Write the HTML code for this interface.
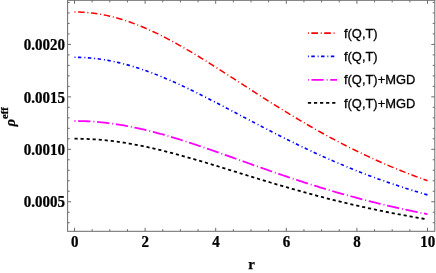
<!DOCTYPE html><html><head><meta charset="utf-8"><title>plot</title><style>html,body{margin:0;padding:0;background:#fff;}svg{display:block;will-change:transform}text{font-family:"Liberation Serif",serif;font-weight:bold;fill:#000;stroke:#000;stroke-width:0.25}.lg{font-family:"Liberation Sans",sans-serif;font-weight:normal;stroke-width:0.3}</style></head><body>
<svg width="436" height="273" viewBox="0 0 436 273">
<rect width="436" height="273" fill="#fff"/>
<path d="M74.50 11.99 L76.27 12.00 L78.03 12.03 L79.80 12.08 L81.56 12.16 L83.33 12.25 L85.09 12.37 L86.86 12.50 L88.62 12.66 L90.39 12.84 L92.15 13.04 L93.91 13.26 L95.68 13.50 L97.44 13.77 L99.21 14.05 L100.97 14.35 L102.74 14.67 L104.50 15.02 L106.27 15.38 L108.03 15.76 L109.80 16.16 L111.56 16.59 L113.33 17.03 L115.09 17.49 L116.86 17.97 L118.62 18.46 L120.39 18.98 L122.16 19.52 L123.92 20.07 L125.69 20.64 L127.45 21.23 L129.22 21.83 L130.98 22.46 L132.75 23.10 L134.51 23.75 L136.27 24.43 L138.04 25.12 L139.81 25.82 L141.57 26.54 L143.33 27.28 L145.10 28.03 L146.87 28.80 L148.63 29.58 L150.39 30.37 L152.16 31.18 L153.93 32.01 L155.69 32.84 L157.45 33.69 L159.22 34.56 L160.99 35.43 L162.75 36.32 L164.51 37.22 L166.28 38.13 L168.05 39.05 L169.81 39.99 L171.57 40.93 L173.34 41.89 L175.10 42.85 L176.87 43.83 L178.63 44.81 L180.40 45.80 L182.17 46.81 L183.93 47.82 L185.69 48.84 L187.46 49.87 L189.22 50.90 L190.99 51.95 L192.75 53.00 L194.52 54.05 L196.28 55.12 L198.05 56.19 L199.81 57.26 L201.58 58.34 L203.34 59.43 L205.11 60.52 L206.88 61.62 L208.64 62.72 L210.41 63.83 L212.17 64.94 L213.94 66.05 L215.70 67.17 L217.46 68.29 L219.23 69.41 L221.00 70.54 L222.76 71.67 L224.52 72.80 L226.29 73.93 L228.06 75.07 L229.82 76.20 L231.58 77.34 L233.35 78.48 L235.11 79.62 L236.88 80.76 L238.65 81.90 L240.41 83.04 L242.17 84.18 L243.94 85.32 L245.71 86.46 L247.47 87.59 L249.23 88.73 L251.00 89.87 L252.77 91.00 L254.53 92.14 L256.29 93.27 L258.06 94.40 L259.82 95.53 L261.59 96.66 L263.36 97.78 L265.12 98.90 L266.88 100.02 L268.65 101.14 L270.42 102.25 L272.18 103.36 L273.94 104.47 L275.71 105.57 L277.48 106.67 L279.24 107.77 L281.00 108.86 L282.77 109.95 L284.53 111.04 L286.30 112.12 L288.06 113.20 L289.83 114.27 L291.60 115.34 L293.36 116.40 L295.12 117.46 L296.89 118.51 L298.65 119.56 L300.42 120.61 L302.18 121.65 L303.95 122.69 L305.72 123.72 L307.48 124.74 L309.25 125.76 L311.01 126.77 L312.77 127.78 L314.54 128.79 L316.31 129.78 L318.07 130.78 L319.83 131.76 L321.60 132.75 L323.37 133.72 L325.13 134.69 L326.89 135.66 L328.66 136.61 L330.42 137.57 L332.19 138.51 L333.95 139.45 L335.72 140.39 L337.48 141.32 L339.25 142.24 L341.01 143.16 L342.78 144.07 L344.55 144.97 L346.31 145.87 L348.07 146.76 L349.84 147.65 L351.61 148.53 L353.37 149.41 L355.13 150.27 L356.90 151.14 L358.67 151.99 L360.43 152.84 L362.19 153.69 L363.96 154.52 L365.72 155.36 L367.49 156.18 L369.25 157.00 L371.02 157.81 L372.79 158.62 L374.55 159.42 L376.31 160.22 L378.08 161.00 L379.84 161.79 L381.61 162.56 L383.38 163.33 L385.14 164.10 L386.90 164.86 L388.67 165.61 L390.44 166.35 L392.20 167.10 L393.96 167.83 L395.73 168.56 L397.50 169.28 L399.26 170.00 L401.02 170.71 L402.79 171.41 L404.55 172.11 L406.32 172.81 L408.09 173.50 L409.85 174.18 L411.62 174.85 L413.38 175.53 L415.14 176.19 L416.91 176.85 L418.67 177.50 L420.44 178.15 L422.21 178.80 L423.97 179.43 L425.74 180.06 L427.50 180.69" fill="none" stroke="#ff0000" stroke-width="1.5" stroke-dasharray="1.0 2.6 6.53 2.765"/>
<path d="M74.50 57.30 L76.27 57.31 L78.03 57.34 L79.80 57.38 L81.56 57.44 L83.33 57.52 L85.09 57.61 L86.86 57.73 L88.62 57.86 L90.39 58.00 L92.15 58.17 L93.91 58.35 L95.68 58.54 L97.44 58.76 L99.21 58.99 L100.97 59.24 L102.74 59.50 L104.50 59.78 L106.27 60.08 L108.03 60.39 L109.80 60.72 L111.56 61.07 L113.33 61.43 L115.09 61.80 L116.86 62.20 L118.62 62.60 L120.39 63.03 L122.16 63.46 L123.92 63.92 L125.69 64.38 L127.45 64.86 L129.22 65.36 L130.98 65.87 L132.75 66.39 L134.51 66.93 L136.27 67.48 L138.04 68.05 L139.81 68.62 L141.57 69.21 L143.33 69.81 L145.10 70.43 L146.87 71.06 L148.63 71.70 L150.39 72.35 L152.16 73.01 L153.93 73.68 L155.69 74.37 L157.45 75.06 L159.22 75.77 L160.99 76.48 L162.75 77.21 L164.51 77.94 L166.28 78.69 L168.05 79.44 L169.81 80.21 L171.57 80.98 L173.34 81.76 L175.10 82.55 L176.87 83.35 L178.63 84.15 L180.40 84.96 L182.17 85.78 L183.93 86.61 L185.69 87.44 L187.46 88.28 L189.22 89.13 L190.99 89.98 L192.75 90.84 L194.52 91.70 L196.28 92.57 L198.05 93.45 L199.81 94.33 L201.58 95.21 L203.34 96.10 L205.11 96.99 L206.88 97.89 L208.64 98.79 L210.41 99.69 L212.17 100.60 L213.94 101.51 L215.70 102.42 L217.46 103.33 L219.23 104.25 L221.00 105.17 L222.76 106.09 L224.52 107.02 L226.29 107.94 L228.06 108.87 L229.82 109.79 L231.58 110.72 L233.35 111.65 L235.11 112.58 L236.88 113.51 L238.65 114.44 L240.41 115.37 L242.17 116.30 L243.94 117.23 L245.71 118.16 L247.47 119.09 L249.23 120.02 L251.00 120.95 L252.77 121.88 L254.53 122.80 L256.29 123.72 L258.06 124.65 L259.82 125.57 L261.59 126.49 L263.36 127.40 L265.12 128.32 L266.88 129.23 L268.65 130.14 L270.42 131.05 L272.18 131.95 L273.94 132.86 L275.71 133.76 L277.48 134.65 L279.24 135.55 L281.00 136.44 L282.77 137.33 L284.53 138.21 L286.30 139.09 L288.06 139.97 L289.83 140.85 L291.60 141.72 L293.36 142.58 L295.12 143.45 L296.89 144.31 L298.65 145.16 L300.42 146.01 L302.18 146.86 L303.95 147.70 L305.72 148.54 L307.48 149.38 L309.25 150.21 L311.01 151.03 L312.77 151.85 L314.54 152.67 L316.31 153.48 L318.07 154.29 L319.83 155.10 L321.60 155.90 L323.37 156.69 L325.13 157.48 L326.89 158.26 L328.66 159.04 L330.42 159.82 L332.19 160.59 L333.95 161.36 L335.72 162.12 L337.48 162.87 L339.25 163.62 L341.01 164.37 L342.78 165.11 L344.55 165.85 L346.31 166.58 L348.07 167.30 L349.84 168.03 L351.61 168.74 L353.37 169.45 L355.13 170.16 L356.90 170.86 L358.67 171.56 L360.43 172.25 L362.19 172.93 L363.96 173.61 L365.72 174.29 L367.49 174.96 L369.25 175.63 L371.02 176.29 L372.79 176.94 L374.55 177.60 L376.31 178.24 L378.08 178.88 L379.84 179.52 L381.61 180.15 L383.38 180.78 L385.14 181.40 L386.90 182.01 L388.67 182.62 L390.44 183.23 L392.20 183.83 L393.96 184.43 L395.73 185.02 L397.50 185.61 L399.26 186.19 L401.02 186.77 L402.79 187.34 L404.55 187.91 L406.32 188.47 L408.09 189.03 L409.85 189.58 L411.62 190.13 L413.38 190.68 L415.14 191.22 L416.91 191.75 L418.67 192.28 L420.44 192.81 L422.21 193.33 L423.97 193.85 L425.74 194.36 L427.50 194.87" fill="none" stroke="#0000ff" stroke-width="1.6" stroke-dasharray="1.0 2.5 3.4 2.953"/>
<path d="M74.50 120.98 L76.27 120.98 L78.03 121.00 L79.80 121.03 L81.56 121.07 L83.33 121.12 L85.09 121.19 L86.86 121.27 L88.62 121.35 L90.39 121.45 L92.15 121.56 L93.91 121.69 L95.68 121.82 L97.44 121.97 L99.21 122.12 L100.97 122.29 L102.74 122.47 L104.50 122.66 L106.27 122.86 L108.03 123.08 L109.80 123.30 L111.56 123.53 L113.33 123.78 L115.09 124.03 L116.86 124.30 L118.62 124.58 L120.39 124.86 L122.16 125.16 L123.92 125.47 L125.69 125.79 L127.45 126.11 L129.22 126.45 L130.98 126.80 L132.75 127.15 L134.51 127.52 L136.27 127.89 L138.04 128.27 L139.81 128.66 L141.57 129.06 L143.33 129.47 L145.10 129.89 L146.87 130.32 L148.63 130.75 L150.39 131.19 L152.16 131.64 L153.93 132.10 L155.69 132.56 L157.45 133.03 L159.22 133.51 L160.99 134.00 L162.75 134.49 L164.51 134.99 L166.28 135.50 L168.05 136.01 L169.81 136.53 L171.57 137.05 L173.34 137.58 L175.10 138.12 L176.87 138.66 L178.63 139.20 L180.40 139.75 L182.17 140.31 L183.93 140.87 L185.69 141.44 L187.46 142.01 L189.22 142.58 L190.99 143.16 L192.75 143.74 L194.52 144.33 L196.28 144.92 L198.05 145.51 L199.81 146.11 L201.58 146.71 L203.34 147.31 L205.11 147.91 L206.88 148.52 L208.64 149.13 L210.41 149.74 L212.17 150.36 L213.94 150.97 L215.70 151.59 L217.46 152.21 L219.23 152.84 L221.00 153.46 L222.76 154.08 L224.52 154.71 L226.29 155.34 L228.06 155.96 L229.82 156.59 L231.58 157.22 L233.35 157.85 L235.11 158.48 L236.88 159.11 L238.65 159.74 L240.41 160.37 L242.17 161.00 L243.94 161.64 L245.71 162.27 L247.47 162.89 L249.23 163.52 L251.00 164.15 L252.77 164.78 L254.53 165.41 L256.29 166.03 L258.06 166.66 L259.82 167.28 L261.59 167.90 L263.36 168.52 L265.12 169.14 L266.88 169.76 L268.65 170.38 L270.42 170.99 L272.18 171.61 L273.94 172.22 L275.71 172.83 L277.48 173.43 L279.24 174.04 L281.00 174.64 L282.77 175.24 L284.53 175.84 L286.30 176.44 L288.06 177.03 L289.83 177.63 L291.60 178.21 L293.36 178.80 L295.12 179.39 L296.89 179.97 L298.65 180.55 L300.42 181.12 L302.18 181.70 L303.95 182.27 L305.72 182.83 L307.48 183.40 L309.25 183.96 L311.01 184.52 L312.77 185.08 L314.54 185.63 L316.31 186.18 L318.07 186.73 L319.83 187.27 L321.60 187.81 L323.37 188.35 L325.13 188.88 L326.89 189.41 L328.66 189.94 L330.42 190.46 L332.19 190.99 L333.95 191.50 L335.72 192.02 L337.48 192.53 L339.25 193.04 L341.01 193.54 L342.78 194.04 L344.55 194.54 L346.31 195.03 L348.07 195.53 L349.84 196.01 L351.61 196.50 L353.37 196.98 L355.13 197.46 L356.90 197.93 L358.67 198.40 L360.43 198.87 L362.19 199.33 L363.96 199.79 L365.72 200.25 L367.49 200.70 L369.25 201.15 L371.02 201.60 L372.79 202.04 L374.55 202.48 L376.31 202.92 L378.08 203.35 L379.84 203.78 L381.61 204.21 L383.38 204.63 L385.14 205.05 L386.90 205.47 L388.67 205.88 L390.44 206.29 L392.20 206.70 L393.96 207.10 L395.73 207.50 L397.50 207.90 L399.26 208.29 L401.02 208.68 L402.79 209.07 L404.55 209.45 L406.32 209.83 L408.09 210.21 L409.85 210.58 L411.62 210.95 L413.38 211.32 L415.14 211.69 L416.91 212.05 L418.67 212.41 L420.44 212.76 L422.21 213.11 L423.97 213.46 L425.74 213.81 L427.50 214.15" fill="none" stroke="#ff00ff" stroke-width="1.8" stroke-dasharray="1.0 2.7 12.3 2.9"/>
<path d="M74.50 138.71 L76.27 138.71 L78.03 138.73 L79.80 138.75 L81.56 138.79 L83.33 138.84 L85.09 138.89 L86.86 138.96 L88.62 139.04 L90.39 139.13 L92.15 139.23 L93.91 139.34 L95.68 139.46 L97.44 139.58 L99.21 139.72 L100.97 139.87 L102.74 140.03 L104.50 140.20 L106.27 140.38 L108.03 140.57 L109.80 140.77 L111.56 140.98 L113.33 141.19 L115.09 141.42 L116.86 141.66 L118.62 141.90 L120.39 142.16 L122.16 142.42 L123.92 142.69 L125.69 142.98 L127.45 143.26 L129.22 143.56 L130.98 143.87 L132.75 144.18 L134.51 144.51 L136.27 144.84 L138.04 145.18 L139.81 145.52 L141.57 145.88 L143.33 146.24 L145.10 146.61 L146.87 146.99 L148.63 147.37 L150.39 147.76 L152.16 148.16 L153.93 148.56 L155.69 148.97 L157.45 149.39 L159.22 149.81 L160.99 150.24 L162.75 150.67 L164.51 151.11 L166.28 151.56 L168.05 152.01 L169.81 152.47 L171.57 152.93 L173.34 153.39 L175.10 153.86 L176.87 154.34 L178.63 154.82 L180.40 155.30 L182.17 155.79 L183.93 156.29 L185.69 156.78 L187.46 157.28 L189.22 157.79 L190.99 158.29 L192.75 158.80 L194.52 159.32 L196.28 159.83 L198.05 160.35 L199.81 160.88 L201.58 161.40 L203.34 161.93 L205.11 162.46 L206.88 162.99 L208.64 163.52 L210.41 164.06 L212.17 164.59 L213.94 165.13 L215.70 165.67 L217.46 166.21 L219.23 166.75 L221.00 167.30 L222.76 167.84 L224.52 168.39 L226.29 168.93 L228.06 169.48 L229.82 170.03 L231.58 170.57 L233.35 171.12 L235.11 171.67 L236.88 172.22 L238.65 172.76 L240.41 173.31 L242.17 173.86 L243.94 174.41 L245.71 174.95 L247.47 175.50 L249.23 176.04 L251.00 176.59 L252.77 177.13 L254.53 177.67 L256.29 178.21 L258.06 178.75 L259.82 179.29 L261.59 179.83 L263.36 180.37 L265.12 180.90 L266.88 181.44 L268.65 181.97 L270.42 182.50 L272.18 183.03 L273.94 183.56 L275.71 184.08 L277.48 184.60 L279.24 185.13 L281.00 185.65 L282.77 186.16 L284.53 186.68 L286.30 187.19 L288.06 187.70 L289.83 188.21 L291.60 188.72 L293.36 189.22 L295.12 189.72 L296.89 190.22 L298.65 190.72 L300.42 191.22 L302.18 191.71 L303.95 192.20 L305.72 192.68 L307.48 193.17 L309.25 193.65 L311.01 194.13 L312.77 194.60 L314.54 195.08 L316.31 195.55 L318.07 196.02 L319.83 196.48 L321.60 196.94 L323.37 197.40 L325.13 197.86 L326.89 198.31 L328.66 198.77 L330.42 199.21 L332.19 199.66 L333.95 200.10 L335.72 200.54 L337.48 200.98 L339.25 201.41 L341.01 201.84 L342.78 202.27 L344.55 202.69 L346.31 203.12 L348.07 203.53 L349.84 203.95 L351.61 204.36 L353.37 204.77 L355.13 205.18 L356.90 205.58 L358.67 205.98 L360.43 206.38 L362.19 206.78 L363.96 207.17 L365.72 207.56 L367.49 207.94 L369.25 208.33 L371.02 208.71 L372.79 209.08 L374.55 209.46 L376.31 209.83 L378.08 210.20 L379.84 210.56 L381.61 210.93 L383.38 211.29 L385.14 211.64 L386.90 212.00 L388.67 212.35 L390.44 212.70 L392.20 213.04 L393.96 213.38 L395.73 213.72 L397.50 214.06 L399.26 214.39 L401.02 214.73 L402.79 215.05 L404.55 215.38 L406.32 215.70 L408.09 216.02 L409.85 216.34 L411.62 216.66 L413.38 216.97 L415.14 217.28 L416.91 217.58 L418.67 217.89 L420.44 218.19 L422.21 218.49 L423.97 218.79 L425.74 219.08 L427.50 219.37" fill="none" stroke="#000000" stroke-width="1.8" stroke-dasharray="3.15 2.9"/>
<path d="M74.50 231.30V227.80M74.50 0.30V3.80M92.15 231.30V229.20M92.15 0.30V2.40M109.80 231.30V229.20M109.80 0.30V2.40M127.45 231.30V229.20M127.45 0.30V2.40M145.10 231.30V227.80M145.10 0.30V3.80M162.75 231.30V229.20M162.75 0.30V2.40M180.40 231.30V229.20M180.40 0.30V2.40M198.05 231.30V229.20M198.05 0.30V2.40M215.70 231.30V227.80M215.70 0.30V3.80M233.35 231.30V229.20M233.35 0.30V2.40M251.00 231.30V229.20M251.00 0.30V2.40M268.65 231.30V229.20M268.65 0.30V2.40M286.30 231.30V227.80M286.30 0.30V3.80M303.95 231.30V229.20M303.95 0.30V2.40M321.60 231.30V229.20M321.60 0.30V2.40M339.25 231.30V229.20M339.25 0.30V2.40M356.90 231.30V227.80M356.90 0.30V3.80M374.55 231.30V229.20M374.55 0.30V2.40M392.20 231.30V229.20M392.20 0.30V2.40M409.85 231.30V229.20M409.85 0.30V2.40M427.50 231.30V227.80M427.50 0.30V3.80M67.60 222.73H69.70M434.80 222.73H432.70M67.60 212.24H69.70M434.80 212.24H432.70M67.60 201.75H71.10M434.80 201.75H431.30M67.60 191.26H69.70M434.80 191.26H432.70M67.60 180.77H69.70M434.80 180.77H432.70M67.60 170.28H69.70M434.80 170.28H432.70M67.60 159.79H69.70M434.80 159.79H432.70M67.60 149.30H71.10M434.80 149.30H431.30M67.60 138.81H69.70M434.80 138.81H432.70M67.60 128.32H69.70M434.80 128.32H432.70M67.60 117.83H69.70M434.80 117.83H432.70M67.60 107.34H69.70M434.80 107.34H432.70M67.60 96.85H71.10M434.80 96.85H431.30M67.60 86.36H69.70M434.80 86.36H432.70M67.60 75.87H69.70M434.80 75.87H432.70M67.60 65.38H69.70M434.80 65.38H432.70M67.60 54.89H69.70M434.80 54.89H432.70M67.60 44.40H71.10M434.80 44.40H431.30M67.60 33.91H69.70M434.80 33.91H432.70M67.60 23.42H69.70M434.80 23.42H432.70M67.60 12.93H69.70M434.80 12.93H432.70M67.60 2.44H69.70M434.80 2.44H432.70" fill="none" stroke="#6a6a6a" stroke-width="1.0"/>
<rect x="67.60" y="0.30" width="367.20" height="231.00" fill="none" stroke="#6a6a6a" stroke-width="1.0"/>
<text transform="translate(74.70,246.5) scale(0.955,1)" font-size="15.7" text-anchor="middle">0</text>
<text transform="translate(145.30,246.5) scale(0.955,1)" font-size="15.7" text-anchor="middle">2</text>
<text transform="translate(215.90,246.5) scale(0.955,1)" font-size="15.7" text-anchor="middle">4</text>
<text transform="translate(286.50,246.5) scale(0.955,1)" font-size="15.7" text-anchor="middle">6</text>
<text transform="translate(357.10,246.5) scale(0.955,1)" font-size="15.7" text-anchor="middle">8</text>
<text transform="translate(427.70,246.5) scale(0.955,1)" font-size="15.7" text-anchor="middle">10</text>
<text transform="translate(65.0,207.40) scale(0.955,1)" font-size="15.7" text-anchor="end">0.0005</text>
<text transform="translate(65.0,154.95) scale(0.955,1)" font-size="15.7" text-anchor="end">0.0010</text>
<text transform="translate(65.0,102.60) scale(0.955,1)" font-size="15.7" text-anchor="end">0.0015</text>
<text transform="translate(65.0,50.05) scale(0.955,1)" font-size="15.7" text-anchor="end">0.0020</text>
<text x="251.6" y="268.6" font-size="14.8" text-anchor="middle">r</text>
<g transform="translate(14.6,126.6) rotate(-90)"><text x="0" y="0" font-size="14.6"><tspan font-style="italic">ρ</tspan><tspan font-size="10.5" dy="-6.2" dx="0.2">eff</tspan></text></g>
<path d="M307.90 33.20H337.00" stroke="#ff0000" stroke-width="1.8" stroke-dasharray="0.9 2.55 6.6 2.8" fill="none"/>
<text class="lg" x="344.00" y="37.80" font-size="12.9">f(Q,T)</text>
<path d="M307.90 56.40H337.00" stroke="#0000ff" stroke-width="1.8" stroke-dasharray="0.9 2.5 3.5 2.85" fill="none"/>
<text class="lg" x="344.00" y="61.07" font-size="12.9">f(Q,T)</text>
<path d="M307.90 79.80H337.00" stroke="#ff00ff" stroke-width="1.8" stroke-dasharray="0.9 2.7 12.2 2.95" fill="none"/>
<text class="lg" x="344.00" y="84.30" font-size="12.9">f(Q,T)+MGD</text>
<path d="M307.90 102.90H337.00" stroke="#000000" stroke-width="1.8" stroke-dasharray="3.2 2.87" fill="none"/>
<text class="lg" x="344.00" y="107.60" font-size="12.9">f(Q,T)+MGD</text>
</svg></body></html>
